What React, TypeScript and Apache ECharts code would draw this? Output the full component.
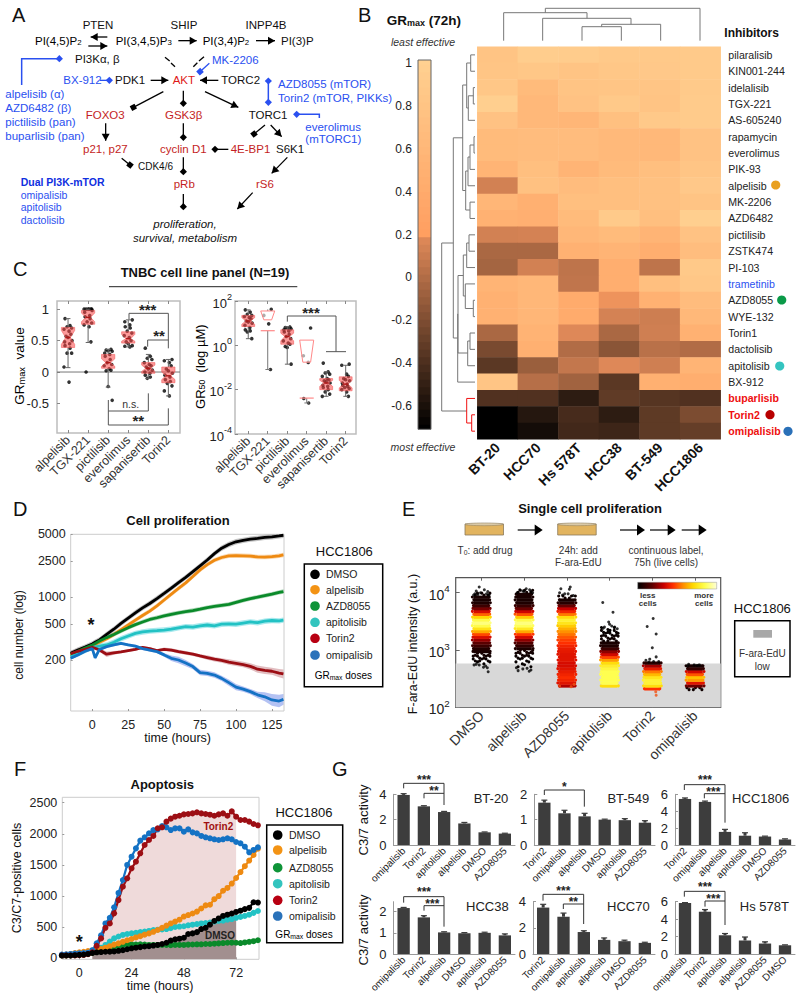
import React, { useEffect, useRef } from "react";
import * as echarts from "echarts";

const FF = "Liberation Sans";

// ---------- Panel B data ----------
const cellLines = ["BT-20", "HCC70", "Hs 578T", "HCC38", "BT-549", "HCC1806"];
const inhibitors = ["pilaralisib", "KIN001-244", "idelalisib", "TGX-221", "AS-605240", "rapamycin", "everolimus", "PIK-93", "alpelisib", "MK-2206", "AZD6482", "pictilisib", "ZSTK474", "PI-103", "trametinib", "AZD8055", "WYE-132", "Torin1", "dactolisib", "apitolisib", "BX-912", "buparlisib", "Torin2", "omipalisib"];
const grmax = [
  [0.8, 0.95, 0.93, 0.88, 0.88, 0.9],
  [0.82, 0.85, 0.8, 0.85, 0.87, 0.9],
  [0.85, 0.65, 0.8, 0.82, 0.82, 0.9],
  [0.98, 0.62, 0.78, 0.88, 0.8, 0.92],
  [0.78, 0.62, 0.58, 0.73, 0.88, 0.92],
  [0.65, 0.68, 0.68, 0.63, 0.62, 0.78],
  [0.65, 0.68, 0.68, 0.63, 0.62, 0.78],
  [0.55, 0.72, 0.55, 0.65, 0.72, 0.82],
  [0.13, 0.75, 0.68, 0.72, 0.75, 0.87],
  [0.58, 0.48, 0.72, 0.72, 0.75, 0.8],
  [0.5, 0.47, 0.65, 0.9, 0.72, 0.97],
  [0.13, 0.14, 0.6, 0.65, 0.55, 0.78],
  [-0.03, -0.03, 0.5, 0.55, 0.45, 0.7],
  [-0.05, 0.13, 0.05, 0.45, 0.05, 0.88],
  [0.55, 0.6, 0.06, 0.45, 0.72, 0.85],
  [0.5, 0.6, 0.4, 0.19, 0.5, 0.68],
  [0.5, 0.57, 0.4, 0.14, 0.11, 0.62],
  [-0.03, 0.53, 0.18, -0.03, 0.12, 0.5],
  [-0.22, 0.48, 0.0, -0.15, 0.03, 0.0],
  [-0.34, -0.09, 0.07, 0.18, 0.12, 0.55],
  [0.82, 0.02, -0.06, -0.34, 0.48, 0.45],
  [-0.38, -0.38, -0.52, -0.32, -0.36, -0.38],
  [-0.72, -0.55, -0.42, -0.52, -0.33, -0.21],
  [-0.72, -0.62, -0.44, -0.46, -0.33, -0.3],
];
const grTicks = [1, 0.8, 0.6, 0.4, 0.2, 0, -0.2, -0.4, -0.6];

// ---------- Panel C data ----------
const panelCDrugs = ["alpelisib", "TGX-221", "pictilisib", "everolimus", "sapanisertib", "Torin2"];
const jitter = [-0.15, 0.1, -0.05, 0.18, -0.2, 0.05, 0.14, -0.1, 0.0, 0.2, -0.17, 0.08];
const grmaxPoints = [
  [0.85, 0.74, 0.72, 0.7, 0.68, 0.65, 0.6, 0.57, 0.55, 0.5, 0.48, 0.45, 0.42, 0.38, 0.3, 0.3, 0.08, -0.16],
  [1, 1, 1, 1, 1, 1, 0.98, 0.95, 0.9, 0.88, 0.85, 0.8, 0.78, 0.75, 0.72, 0.48, 0],
  [0.36, 0.35, 0.34, 0.33, 0.3, 0.28, 0.25, 0.2, 0.15, 0.12, 0.1, 0.05, 0.03, 0.02, -0.23, -0.45],
  [0.83, 0.8, 0.75, 0.72, 0.7, 0.65, 0.62, 0.58, 0.55, 0.5, 0.48, 0.45, 0.42, 0.41, 0.4],
  [0.38, 0.25, 0.22, 0.2, 0.15, 0.12, 0.1, 0.08, 0.05, 0.03, 0, -0.02, -0.05, -0.08, -0.1],
  [0.2, 0.18, 0.15, 0.1, 0.05, 0.02, -0.02, -0.05, -0.08, -0.12, -0.15, -0.18, -0.22, -0.3, -0.38],
];
// idx, whisker low, q1, notch low, median, notch high, q3, whisker high
const grmaxBoxes = [
  [1, 0.07, 0.39, 0.44, 0.55, 0.66, 0.71, 0.85],
  [2, 0.47, 0.76, 0.8, 0.87, 0.94, 0.98, 1.0],
  [3, -0.24, 0.06, 0.09, 0.15, 0.21, 0.28, 0.36],
  [4, 0.4, 0.46, 0.49, 0.53, 0.6, 0.64, 0.83],
  [5, -0.1, -0.02, 0.01, 0.06, 0.11, 0.15, 0.28],
  [6, -0.38, -0.17, -0.12, -0.06, 0, 0.08, 0.2],
];
const gr50Points = [
  [1.6, 1.5, 1.4, 1.35, 1.3, 1.25, 1.2, 1.1, 1.05, 1.0, 0.9, 0.8, 0.7, 0.65, 0.6, 0.3],
  [1.63, 1.35, 0.97, -1.09],
  [0.83, 0.8, 0.78, 0.75, 0.7, 0.65, 0.6, 0.5, 0.4, 0.3, 0.2, 0.1, 0.05, -0.05, -0.1, -0.85],
  [0.78, -0.47, -0.77, -2.4, -2.6],
  [-0.8, -1.2, -1.25, -1.3, -1.4, -1.5, -1.55, -1.6, -1.65, -1.7, -1.8, -1.85, -1.9, -2.0, -2.1, -2.2, -2.3],
  [-0.85, -0.9, -1.3, -1.4, -1.5, -1.55, -1.6, -1.7, -1.75, -1.8, -1.85, -1.9, -1.95, -2.0, -2.1, -2.3],
];
const gr50Boxes = [
  [1, 0.3, 0.85, 0.95, 1.1, 1.25, 1.35, 1.6],
  [3, -0.85, 0.05, 0.2, 0.4, 0.55, 0.7, 0.83],
  [5, -2.3, -2.0, -1.85, -1.7, -1.58, -1.5, -1.2],
  [6, -2.3, -2.05, -1.92, -1.75, -1.58, -1.42, -0.9],
];
// idx, trapezoid low, trapezoid high, median, whisker low, whisker high
const gr50Hollow = [
  [2, 1.15, 1.55, 0.66, -1.09, 1.62],
  [4, -0.76, 0.235, -2.38, -2.6, 0.235],
];

// ---------- Panel D data ----------
const tD = [-15, -10, -5, 0, 2, 5, 10, 15, 20, 25, 30, 35, 40, 45, 50, 55, 60, 65, 70, 75, 80, 85, 90, 95, 100, 105, 110, 115, 120, 125, 130, 133];
const dDMSO = [237, 258, 278, 301, 315, 335, 385, 440, 510, 585, 670, 760, 850, 965, 1100, 1260, 1450, 1660, 1920, 2230, 2590, 3050, 3500, 3850, 4130, 4280, 4420, 4500, 4620, 4680, 4800, 4880];
const dAlpelisib = [225, 243, 265, 290, 300, 315, 345, 385, 435, 490, 555, 625, 700, 800, 930, 1080, 1250, 1440, 1700, 2010, 2300, 2570, 2760, 2880, 2900, 2880, 2860, 2800, 2790, 2820, 2880, 2950];
const dAZD8055 = [232, 250, 272, 294, 305, 325, 355, 385, 420, 458, 495, 530, 565, 590, 620, 645, 670, 690, 710, 735, 765, 790, 810, 830, 875, 920, 965, 1000, 1040, 1080, 1130, 1155];
const dApitolisib = [218, 235, 255, 277, 280, 285, 294, 315, 345, 370, 396, 410, 420, 425, 431, 440, 455, 470, 465, 480, 490, 480, 500, 505, 500, 515, 530, 520, 540, 550, 545, 555];
const dTorin2 = [235, 250, 262, 277, 270, 258, 232, 240, 246, 254, 262, 276, 268, 255, 263, 258, 248, 240, 232, 222, 213, 204, 198, 190, 184, 178, 170, 158, 153, 150, 143, 140];
const dOmipalisib = [209, 228, 250, 268, 212, 262, 282, 294, 306, 294, 285, 268, 258, 248, 228, 209, 200, 185, 169, 145, 142, 136, 125, 112, 100, 95, 89, 82, 78, 72, 70, 73];
const dTorinBand = [0.03, 0.03, 0.03, 0.02, 0.02, 0.02, 0.03, 0.02, 0.015, 0.015, 0.015, 0.015, 0.015, 0.015, 0.02, 0.02, 0.02, 0.02, 0.02, 0.02, 0.025, 0.025, 0.025, 0.03, 0.03, 0.03, 0.035, 0.04, 0.04, 0.04, 0.045, 0.05];
const dOmiBand = [0.015, 0.015, 0.015, 0.015, 0.02, 0.02, 0.015, 0.015, 0.015, 0.015, 0.015, 0.015, 0.015, 0.015, 0.02, 0.03, 0.035, 0.035, 0.03, 0.03, 0.03, 0.03, 0.03, 0.035, 0.035, 0.03, 0.03, 0.035, 0.05, 0.065, 0.07, 0.06];
const dYTicks = [200, 500, 1000, 2500, 5000];
const dXTicks = [0, 25, 50, 75, 100, 125];

// ---------- Panel E data ----------
const panelEDrugs = ["DMSO", "alpelisib", "AZD8055", "apitolisib", "Torin2", "omipalisib"];
const eBins = [2.2, 2.25, 2.3, 2.35, 2.4, 2.45, 2.5, 2.55, 2.6, 2.65, 2.7, 2.75, 2.8, 2.85, 2.9, 2.95, 3.0, 3.05, 3.1, 3.15, 3.2, 3.25, 3.3, 3.35, 3.4, 3.45, 3.5, 3.55, 3.6, 3.65, 3.7, 3.75, 3.8, 3.85, 3.9, 3.95, 4.0];
const eDensity = [
  [0, 0, 0, 0, 0, 0, 0, 0, 0, 0, 0, 0.01, 0.02, 0.03, 0.04, 0.05, 0.07, 0.12, 0.18, 0.26, 0.36, 0.48, 0.62, 0.74, 0.84, 0.9, 0.84, 0.7, 0.52, 0.36, 0.22, 0.12, 0.06, 0.05, 0.05, 0.03, 0],
  [0, 0, 0, 0, 0, 0, 0, 0, 0, 0, 0.01, 0.01, 0.01, 0.02, 0.03, 0.04, 0.06, 0.1, 0.16, 0.25, 0.35, 0.46, 0.62, 0.76, 0.86, 0.9, 0.84, 0.68, 0.5, 0.34, 0.2, 0.11, 0.06, 0.05, 0.05, 0.05, 0.03],
  [0, 0, 0, 0.3, 0.38, 0.42, 0.44, 0.42, 0.4, 0.38, 0.36, 0.36, 0.38, 0.38, 0.38, 0.39, 0.4, 0.42, 0.45, 0.47, 0.5, 0.54, 0.58, 0.63, 0.68, 0.75, 0.8, 0.72, 0.55, 0.42, 0.33, 0.2, 0.08, 0.05, 0.03, 0, 0],
  [0, 0, 0, 0.72, 0.85, 0.85, 0.85, 0.85, 0.85, 0.82, 0.78, 0.72, 0.6, 0.48, 0.35, 0.25, 0.12, 0.06, 0.05, 0.03, 0.03, 0.02, 0.02, 0.01, 0, 0, 0, 0, 0, 0, 0, 0, 0, 0, 0, 0, 0],
  [0, 0, 0.45, 0.72, 0.8, 0.8, 0.75, 0.65, 0.55, 0.4, 0.28, 0.08, 0, 0, 0, 0, 0, 0, 0, 0, 0, 0, 0, 0, 0, 0, 0, 0, 0, 0, 0, 0, 0, 0, 0, 0, 0],
  [0, 0, 0.03, 0.2, 0.38, 0.6, 0.66, 0.5, 0.35, 0.1, 0.05, 0, 0, 0, 0, 0, 0, 0, 0, 0, 0, 0, 0, 0, 0, 0, 0, 0, 0, 0, 0, 0, 0, 0, 0, 0, 0],
];
const eDotsBlack = [
  [0.95, 4.1], [0.88, 4.03], [1.07, 4.05], [1.15, 4.02], [0.85, 3.98], [0.98, 4.0], [1.12, 3.98], [1.18, 3.96], [0.82, 3.96], [0.92, 3.97],
  [1.16, 2.62], [0.88, 2.75], [0.83, 2.74], [0.95, 2.74], [1.1, 2.72], [1.14, 2.69], [1.05, 2.7],
  [2.05, 4.07], [2.13, 4.05], [1.9, 4.05], [1.97, 4.03], [2.16, 4.02], [2.2, 4.0], [1.84, 4.0], [2.0, 4.02],
  [1.86, 2.64], [2.12, 2.63], [2.16, 2.65], [1.97, 2.67], [2.07, 2.68], [1.82, 2.69],
  [3.08, 4.1], [3.06, 4.06], [2.86, 4.07], [2.83, 4.0], [3.03, 3.98], [2.95, 3.98], [3.15, 3.95], [2.9, 3.96],
  [3.84, 3.83], [4.08, 3.66], [3.98, 3.49], [4.0, 3.45], [4.12, 3.4], [3.88, 3.4], [4.18, 3.37], [4.05, 3.42], [3.85, 3.38], [4.0, 3.33],
  [5.02, 3.55], [4.88, 3.41], [5.09, 3.28], [5.0, 3.04], [5.09, 2.88], [4.94, 2.84], [4.85, 2.82], [5.15, 2.8], [5.03, 2.8], [4.92, 2.79],
  [5.85, 2.75], [5.98, 2.74], [6.05, 2.73], [6.1, 2.74], [5.82, 2.72],
];
const eDotsOrange = [[2.83, 2.37], [3.1, 2.36], [3.17, 2.4], [5.08, 2.27], [5.09, 2.21]];
const eThreshold = 2.766;
const stripPattern = [-0.19, -0.14, -0.09, -0.04, 0.01, 0.06, 0.11, 0.16, 0.2];
const stripEdge = [0.0, 0.02, -0.01, 0.025, 0.01];

// ---------- Panel F data ----------
const tF = [-8, -6, -4, -2, 0, 2, 4, 6, 8, 10, 12, 14, 16, 18, 20, 22, 24, 26, 28, 30, 32, 34, 36, 38, 40, 42, 44, 46, 48, 50, 52, 54, 56, 58, 60, 62, 64, 66, 68, 70, 72, 74, 76, 78, 80, 82];
const fDMSO = [45, 45, 45, 50, 55, 60, 70, 85, 96, 100, 105, 107, 110, 120, 130, 145, 160, 170, 180, 190, 195, 205, 215, 230, 250, 285, 305, 315, 330, 390, 400, 420, 470, 490, 540, 600, 640, 680, 700, 720, 745, 765, 790, 810, 900, 895];
const fAlpelisib = [55, 60, 70, 85, 95, 105, 115, 125, 135, 150, 170, 195, 220, 240, 265, 290, 310, 335, 355, 380, 400, 425, 455, 490, 525, 560, 590, 620, 670, 695, 720, 750, 800, 850, 860, 950, 1000, 1085, 1130, 1200, 1290, 1385, 1480, 1570, 1660, 1760];
const fAZD8055 = [45, 45, 45, 50, 55, 60, 70, 85, 100, 120, 140, 160, 180, 195, 210, 225, 225, 220, 225, 220, 215, 215, 215, 215, 214, 210, 215, 215, 215, 220, 222, 225, 225, 230, 230, 235, 240, 245, 250, 252, 250, 245, 255, 265, 275, 290];
const fApitolisib = [50, 52, 55, 60, 65, 75, 85, 100, 125, 170, 215, 270, 320, 350, 375, 390, 400, 410, 420, 430, 440, 455, 460, 465, 470, 485, 505, 510, 515, 530, 540, 550, 560, 565, 575, 590, 600, 605, 620, 630, 650, 665, 680, 700, 730, 760];
const fTorin2 = [45, 45, 45, 45, 50, 55, 65, 95, 200, 320, 490, 560, 722, 936, 1150, 1285, 1445, 1552, 1686, 1820, 1900, 1965, 2088, 2104, 2195, 2243, 2275, 2290, 2312, 2318, 2328, 2345, 2328, 2318, 2307, 2290, 2312, 2328, 2290, 2360, 2275, 2221, 2221, 2195, 2157, 2136];
const fOmipalisib = [60, 65, 70, 75, 80, 85, 90, 130, 240, 370, 560, 650, 820, 1050, 1258, 1500, 1632, 1766, 1890, 1943, 2007, 2060, 2071, 2125, 2104, 2060, 2087, 2087, 2034, 2071, 2023, 2007, 1965, 1943, 1927, 1911, 1900, 1911, 1927, 1911, 1868, 1847, 1793, 1702, 1740, 1782];
const fYTicks = [0, 500, 1000, 1500, 2000, 2500];
const fXTicks = [0, 24, 48, 72];

// ---------- Panel G data ----------
const gNames = ["BT-20", "BT-549", "HCC1806", "HCC38", "HCC70", "Hs 578T"];
const gCats = [
  ["omipalisib", "Torin2", "apitolisib", "alpelisib", "DMSO", "AZD8055"],
  ["Torin2", "omipalisib", "alpelisib", "DMSO", "apitolisib", "AZD8055"],
  ["Torin2", "omipalisib", "alpelisib", "apitolisib", "DMSO", "AZD8055"],
  ["omipalisib", "Torin2", "alpelisib", "DMSO", "apitolisib", "AZD8055"],
  ["Torin2", "omipalisib", "apitolisib", "alpelisib", "DMSO", "AZD8055"],
  ["omipalisib", "Torin2", "apitolisib", "alpelisib", "AZD8055", "DMSO"],
];
const gVals = [
  [3.95, 3.05, 2.6, 1.7, 1.0, 0.9],
  [1.67, 1.25, 1.13, 1.0, 0.98, 0.88],
  [5.45, 5.1, 1.55, 1.1, 1.0, 0.65],
  [2.17, 1.73, 1.02, 0.98, 1.0, 0.88],
  [3.55, 2.85, 1.68, 1.08, 0.98, 0.85],
  [5.85, 4.85, 2.15, 1.55, 1.2, 1.0],
];
const gErr = [
  [0.1, 0.05, 0.05, 0.08, 0.03, 0.03],
  [0.1, 0.12, 0.12, 0.02, 0.06, 0.08],
  [0.12, 0.1, 0.3, 0.35, 0.05, 0.08],
  [0.03, 0.08, 0.03, 0.03, 0.03, 0.07],
  [0.25, 0.28, 0.1, 0.15, 0.08, 0.05],
  [0.05, 0.25, 0.2, 0.4, 0.2, 0.05],
];
const gTickStep = [2, 1, 2, 1, 2, 2];
const gMax = [4, 2, 6, 2.47, 4, 6];

const legendNames = ["DMSO", "alpelisib", "AZD8055", "apitolisib", "Torin2", "omipalisib"];
const legendColors = ["#000000", "#F39314", "#0F9438", "#33C4BE", "#B80012", "#2A72BA"];
const lineColors = ["#000000", "#EE8A12", "#0A8A2A", "#22C2C4", "#9C0E14", "#1472C4"];

// ---------- helpers ----------
const el: any[] = [];
const text = (x: number, y: number, s: string, o: any = {}) => {
  const { rotation, rich, ...st } = o;
  el.push({
    type: "text", x, y, rotation: rotation || 0, z: 100, silent: true,
    style: { text: s, fontSize: 11.5, fontFamily: FF, fill: "#111", align: "left", verticalAlign: "middle", rich, ...st },
  });
};
const line = (pts: number[][], color = "#111", w = 1.2) =>
  el.push({ type: "polyline", z: 99, silent: true, shape: { points: pts }, style: { stroke: color, lineWidth: w, fill: "none" } });
const z3 = (ox: number, oy: number, pts: number[][]) => pts.map(([x, y]) => [ox + x / 3, oy + y / 3]);

const head = (kind: string, x0: number, y0: number, x1: number, y1: number, color: string) => {
  const L = Math.hypot(x1 - x0, y1 - y0);
  const ux = (x1 - x0) / L, uy = (y1 - y0) / L, px = -uy, py = ux;
  let pts: number[][] = [];
  if (kind === "arrow") {
    const l = 7, w = 4;
    pts = [[x1, y1], [x1 - ux * l + px * w, y1 - uy * l + py * w], [x1 - ux * l - px * w, y1 - uy * l - py * w]];
  } else if (kind === "diamond") {
    const r = 3.6;
    pts = [[x1 + r, y1], [x1, y1 + r], [x1 - r, y1], [x1, y1 - r]];
  } else {
    const r = 2.7;
    pts = [[x1 + ux * r + px * r, y1 + uy * r + py * r], [x1 + ux * r - px * r, y1 + uy * r - py * r], [x1 - ux * r - px * r, y1 - uy * r - py * r], [x1 - ux * r + px * r, y1 - uy * r + py * r]];
  }
  el.push({ type: "polygon", z: 99, silent: true, shape: { points: pts }, style: { fill: color } });
};
const conn = (kind: string, x0: number, y0: number, x1: number, y1: number, color = "#000") => {
  const a = [x0 / 3, y0 / 3], b = [x1 / 3, y1 / 3];
  line([a, b], color, 1.3);
  head(kind, a[0], a[1], b[0], b[1], color);
};

const BLUE = "#2A50F0";
const RED = "#C41E24";
const subRich = (fs: number, col?: string) => ({
  n: { fontSize: fs, fontFamily: FF, fill: col, color: col },
  s: { fontSize: fs * 0.68, fontFamily: FF, verticalAlign: "bottom", padding: [4, 0, 0, 0], fill: col, color: col },
});

function panelA() {
  const lab = (x: number, y: number, s: string) => text(x, y, s, { fontSize: 20 });
  lab(12, 15, "A"); lab(358, 15, "B"); lab(13, 269, "C"); lab(13, 509, "D"); lab(402, 509, "E"); lab(14, 769, "F"); lab(332, 769, "G");
  [["PTEN", 98], ["SHIP", 184], ["INPP4B", 266]].forEach(([s, x]: any) => text(x, 24.7, s, { align: "center" }));
  [["{n|PI(4,5)P}{s|2}", 35], ["{n|PI(3,4,5)P}{s|3}", 115.7], ["{n|PI(3,4)P}{s|2}", 202.7]].forEach(([s, x]: any) =>
    text(x, 40.7, s, { rich: subRich(11.5) }));
  text(281, 40.7, "PI(3)P");
  text(75, 59.3, "PI3Kα, β");
  conn("arrow", 322, 111, 272, 111);
  conn("arrow", 265, 138, 322, 138);
  conn("arrow", 535, 122, 590, 122);
  conn("arrow", 768, 122, 825, 122);
  line(z3(0, 0, [[65, 255], [65, 176], [175, 176]]), BLUE, 1.5);
  head("diamond", 0, 0, 178 / 3, 176 / 3, BLUE);
  line(z3(0, 0, [[495, 172], [509, 183]]), "#000", 1.3);
  line(z3(0, 0, [[513, 189], [525, 200]]), "#000", 1.3);
  line(z3(0, 0, [[612, 170], [597, 183]]), "#000", 1.3);
  line(z3(0, 0, [[592, 188], [580, 200]]), "#000", 1.3);
  text(212, 59.7, "MK-2206", { fill: BLUE });
  conn("square", 628, 190, 600, 215, BLUE);
  text(63.3, 80.3, "BX-912", { fill: BLUE });
  conn("diamond", 300, 241, 328, 241, BLUE);
  text(115, 80.3, "PDK1");
  conn("arrow", 452, 241, 505, 241);
  text(172.7, 80.3, "AKT", { fill: "#E01818" });
  conn("arrow", 655, 241, 600, 241);
  text(221.3, 80.3, "TORC2");
  line(z3(0, 0, [[805, 243], [805, 307]]), BLUE, 1.5);
  head("diamond", 0, 0, 805 / 3, 243 / 3, BLUE);
  head("diamond", 0, 0, 805 / 3, 307 / 3, BLUE);
  text(278, 84, "AZD8055 (mTOR)", { fill: BLUE });
  text(278, 97.7, "Torin2 (mTOR, PIKKs)", { fill: BLUE });
  ["alpelisib (α)", "AZD6482 (β)", "pictilisib (pan)", "buparlisib (pan)"].forEach((s, i) => text(5.3, 94.3 + 14 * i, s, { fill: BLUE }));
  conn("square", 490, 275, 400, 322);
  conn("diamond", 550, 272, 550, 310);
  conn("arrow", 615, 275, 715, 322);
  text(85.7, 115, "FOXO3", { fill: RED });
  text(165, 115, "GSK3β", { fill: RED });
  text(248.7, 115, "TORC1");
  line(z3(0, 0, [[958, 354], [958, 343], [890, 343]]), BLUE, 1.5);
  head("diamond", 0, 0, 890 / 3, 343 / 3, BLUE);
  text(305.3, 126.7, "everolimus", { fill: BLUE });
  text(305.3, 139.3, "(mTORC1)", { fill: BLUE });
  conn("arrow", 317, 370, 317, 422);
  conn("diamond", 550, 370, 550, 412);
  conn("square", 795, 375, 762, 402);
  conn("arrow", 812, 375, 845, 410);
  text(83, 149.3, "p21, p27", { fill: RED });
  text(160, 149.3, "cyclin D1", { fill: RED });
  text(230.7, 149.3, "4E-BP1", { fill: RED });
  text(276, 149.3, "S6K1");
  conn("diamond", 685, 448, 645, 448);
  conn("square", 365, 475, 390, 495);
  text(138, 166, "CDK4/6", { fontSize: 10 });
  conn("diamond", 550, 472, 550, 515);
  text(173.7, 184.3, "pRb", { fill: RED });
  text(256, 184.3, "rS6", { fill: RED });
  conn("arrow", 862, 472, 815, 520);
  conn("arrow", 758, 578, 712, 627);
  conn("diamond", 550, 582, 550, 620);
  text(185, 224.3, "proliferation,", { align: "center", fontStyle: "italic" });
  text(185, 238, "survival, metabolism", { align: "center", fontStyle: "italic" });
  text(20.7, 181.7, "Dual PI3K-mTOR", { fill: "#1030E0", fontWeight: "bold", fontSize: 10.5 });
  ["omipalisib", "apitolisib", "dactolisib"].forEach((s, i) => text(20.7, 194.7 + 12.7 * i, s, { fill: BLUE, fontSize: 10.5 }));
}

function panelBDecor() {
  text(386.7, 20, "{b|GR}{t|max}{b| (72h)}", {
    rich: {
      b: { fontSize: 13.5, fontWeight: "bold", fontFamily: FF },
      t: { fontSize: 9, fontWeight: "bold", fontFamily: FF, verticalAlign: "bottom", padding: [4, 0, 0, 0] },
    },
  });
  text(423, 42.3, "least effective", { align: "center", fontStyle: "italic", fontSize: 10.5, fill: "#333" });
  text(423, 446.7, "most effective", { align: "center", fontStyle: "italic", fontSize: 10.5, fill: "#333" });
  text(724.3, 33.3, "Inhibitors", { fontWeight: "bold", fontSize: 12 });
  const dots: any[] = [[775.7, 185, "#E9A01F"], [781.7, 300, "#0A9A48"], [779.7, 366, "#35C4C0"], [770, 414.7, "#B80000"], [788, 431.3, "#2A70B8"]];
  dots.forEach(([x, y, c]) => el.push({ type: "circle", z: 99, silent: true, shape: { cx: x, cy: y, r: 4.6 }, style: { fill: c } }));
  const G = "#777";
  const br = (xa: number, ya: number, xp: number, yb: number, xb: number, c = G) =>
    line([[xa, ya], [xp, ya], [xp, yb], [xb, yb]], c, 1);
  const R = (i: number) => 46.7 + 16.36 * (i + 0.5);
  const X = 475;
  br(X, R(0), 470.7, R(1), X);
  br(X, R(2), 473.3, R(3), X);
  br(473.3, 95.8, 468.3, R(4), X);
  br(470.7, 63, 466.7, 108, 468.3);
  br(X, R(5), 474, R(6), X);
  br(474, 145, 470, R(7), X);
  br(470, 157, 468, R(8), X);
  br(X, R(9), 470, R(10), X);
  br(468, 171, 465.7, 210, 470);
  br(466.7, 85, 462.7, 190.5, 465.7);
  br(X, R(11), 469, R(12), X);
  br(469, 243, 466.7, R(13), X);
  br(X, R(15), 473.3, R(16), X);
  br(X, R(14), 465.3, 308.5, 473.3);
  br(466.7, 255, 463.3, 296, 465.3);
  br(X, R(17), 470, R(18), X);
  br(470, 341, 467.7, R(19), X);
  br(463.3, 275.5, 458, 353, 467.7);
  br(458, 314, 457.7, R(20), X);
  br(462.7, 137.8, 453.3, 338, 457.7);
  br(453.3, 243, 441.7, 411, 466.7);
  br(X, R(22), 471.7, R(23), X, "#F01010");
  br(X, R(21), 466.7, 423, 471.7, "#F01010");
  // top dendrogram
  const bt = 40.7;
  const tp = (x: number) => 380 + x / 3;
  const tb = (xa: number, ya: number, xb: number, yb: number, y: number) =>
    line([[tp(xa), ya], [tp(xa), y], [tp(xb), y], [tp(xb), yb]], G, 1);
  tb(606, bt, 724, bt, 26.7);
  tb(665, 26.7, 842, bt, 24.3);
  tb(488, bt, 753, 24.3, 18.3);
  tb(371, bt, 621, 18.3, 12.7);
  tb(496, 12.7, 960, bt, 8.3);
}

function panelCDecor() {
  text(205, 272.7, "TNBC cell line panel (N=19)", { align: "center", fontWeight: "bold", fontSize: 13 });
  line([[109, 286.7], [297.3, 286.7]], "#222", 1);
  text(19, 366, "{n|GR}{s|max}{n|  value}", { rotation: Math.PI / 2, align: "center", rich: subRich(13.5) });
  text(200, 366.7, "{n|GR}{s|50}{n|  (log µM)}", { rotation: Math.PI / 2, align: "center", rich: subRich(13) });
  const O = 250;
  const g = "#555";
  line(z3(0, O, [[387, 208], [387, 190], [505, 190], [505, 295]]), g, 1);
  line(z3(0, O, [[443, 290], [443, 270], [505, 270]]), g, 1);
  line(z3(0, O, [[445, 430], [445, 483], [325, 483], [325, 450]]), g, 1);
  line(z3(0, O, [[505, 475], [505, 525], [325, 525], [325, 483]]), g, 1);
  line(z3(0, O, [[862, 215], [862, 198], [1008, 198], [1008, 305]]), g, 1);
  line(z3(0, O, [[978, 305], [1038, 305]]), g, 1);
  const st = (x: number, y: number, s: string, fs = 15) => text(x, y, s, { align: "center", fontSize: fs, fontWeight: "bold", fill: "#222" });
  st(443 / 3, O + 178 / 3, "***");
  st(477 / 3, O + 256 / 3, "**");
  st(415 / 3, O + 512 / 3, "**");
  st(933 / 3, O + 186 / 3, "***");
  text(392 / 3, O + 463 / 3, "n.s.", { align: "center", fontSize: 10.5, fill: "#333" });
}

function legendBox(x0: number, y0: number, x1: number, y1: number, cx: number, tx: number, ys: number[], grY: number, grX: number, hX: number, hY: number) {
  text(hX, hY, "HCC1806", { align: "center", fontSize: 13 });
  el.push({ type: "rect", z: 98, silent: true, shape: { x: x0, y: y0, width: x1 - x0, height: y1 - y0 }, style: { fill: "#fff", stroke: "#000", lineWidth: 1.5 } });
  ys.forEach((y, i) => {
    el.push({ type: "circle", z: 99, silent: true, shape: { cx, cy: y, r: 4.8 }, style: { fill: legendColors[i] } });
    text(tx, y, legendNames[i], { fontSize: 10.5, fill: "#222" });
  });
  text(grX, grY, "{n|GR}{s|max}{n| doses}", { align: "center", rich: subRich(10) });
}

function panelDDecor() {
  text(178, 520.7, "Cell proliferation", { align: "center", fontWeight: "bold", fontSize: 13 });
  text(91, 625, "*", { align: "center", fontSize: 18, fontWeight: "bold" });
  text(19, 635, "cell number (log)", { rotation: Math.PI / 2, align: "center", fontSize: 12 });
  text(177.7, 738.3, "time (hours)", { align: "center", fontSize: 12.5 });
  legendBox(304.3, 564, 382.7, 686.7, 315, 326, [574.3, 589.7, 606, 622.3, 638.3, 655], 675.7, 343.3, 344.3, 551.7);
}

function panelEDecor() {
  text(590, 508.3, "Single cell proliferation", { align: "center", fontWeight: "bold", fontSize: 13 });
  [465, 557.7].forEach((x) => {
    el.push({ type: "rect", z: 98, silent: true, shape: { x, y: 524, width: 38.5, height: 11 }, style: { fill: "#E2B45F", stroke: "#8A7A5A", lineWidth: 0.8 } });
    el.push({ type: "ellipse", z: 99, silent: true, shape: { cx: x + 19.2, cy: 524.3, rx: 19.2, ry: 1.4 }, style: { fill: "#D9C9A8", stroke: "#8A7A5A", lineWidth: 0.5 } });
  });
  [[517.7, 542.7], [620, 645], [650, 675.7], [681.7, 706.7]].forEach(([a, b]) => {
    line([[a, 530], [b - 6, 530]], "#000", 1.2);
    el.push({ type: "polygon", z: 99, silent: true, shape: { points: [[b, 530], [b - 8, 524.5], [b - 8, 535.5]] }, style: { fill: "#000" } });
  });
  text(485, 550, "{n|T}{s|0}{n|: add drug}", { align: "center", rich: subRich(10, "#333") });
  text(578.3, 550, "24h: add", { align: "center", fontSize: 10, fill: "#333" });
  text(578.3, 562.3, "F-ara-EdU", { align: "center", fontSize: 10, fill: "#333" });
  text(666, 550, "continuous label,", { align: "center", fontSize: 10, fill: "#333" });
  text(666, 562.3, "75h (live cells)", { align: "center", fontSize: 10, fill: "#333" });
  text(413, 644, "F-ara-EdU intensity (a.u.)", { rotation: Math.PI / 2, align: "center", fontSize: 12.5 });
  el.push({
    type: "rect", z: 98, silent: true, shape: { x: 637.7, y: 582.3, width: 79, height: 6.7 },
    style: {
      stroke: "#999", lineWidth: 0.5,
      fill: new echarts.graphic.LinearGradient(0, 0, 1, 0, hotStops.map(([o, c]: any) => ({ offset: o, color: c }))),
    },
  });
  const sm = { fontSize: 8, fontWeight: "bold", fill: "#333", align: "center" };
  text(647.7, 595, "less", sm); text(647.7, 603, "cells", sm);
  text(704, 595, "more", sm); text(704, 603, "cells", sm);
  text(762.3, 608, "HCC1806", { align: "center", fontSize: 13 });
  el.push({ type: "rect", z: 98, silent: true, shape: { x: 734.7, y: 620.7, width: 55.3, height: 56 }, style: { fill: "#fff", stroke: "#000", lineWidth: 1.5 } });
  el.push({ type: "rect", z: 99, silent: true, shape: { x: 753.3, y: 630, width: 18.7, height: 7.7 }, style: { fill: "#A8A8A8" } });
  text(762.3, 653, "F-ara-EdU", { align: "center", fontSize: 10, fill: "#333" });
  text(762.3, 666, "low", { align: "center", fontSize: 10, fill: "#333" });
}

function panelFDecor() {
  text(162.3, 784.3, "Apoptosis", { align: "center", fontWeight: "bold", fontSize: 13 });
  text(79.3, 942, "*", { align: "center", fontSize: 18, fontWeight: "bold" });
  text(218.3, 826, "Torin2", { align: "center", fontWeight: "bold", fontSize: 10, fill: "#A01010" });
  text(220, 935.3, "DMSO", { align: "center", fontWeight: "bold", fontSize: 10, fill: "#222" });
  text(17.3, 878, "C3/C7-positive cells", { rotation: Math.PI / 2, align: "center", fontSize: 12.5 });
  text(160, 985.7, "time (hours)", { align: "center", fontSize: 12.5 });
  legendBox(266.7, 825, 342.7, 942.7, 277.7, 289, [835, 850, 867.7, 883.7, 900.3, 916], 934, 304, 304, 812.7);
}

function panelGDecor() {
  const O = 750, X = 345, g = "#333";
  const B = (pts: number[][]) => line(z3(X, O, pts), g, 1);
  const S = (x: number, y: number, s: string) => text(X + x / 3, O + y / 3 + 1.5, s, { align: "center", fontSize: 12, fontWeight: "bold", fill: "#222" });
  const N = (x: number, y: number, s: string) => text(X + x / 3, O + y / 3, s, { align: "center", fontSize: 13, fill: "#222" });
  B([[176, 115], [176, 100], [297, 100], [297, 165]]); B([[237, 145], [237, 130], [297, 130]]); S(237, 85, "***"); S(267, 118, "**");
  B([[598, 135], [598, 120], [718, 120], [718, 170]]); S(658, 105, "*");
  B([[1018, 120], [1018, 104], [1140, 104], [1140, 218]]); B([[1078, 145], [1078, 131], [1140, 131]]); S(1080, 86, "***"); S(1105, 122, "***");
  B([[176, 458], [176, 440], [297, 440], [297, 530]]); B([[237, 482], [237, 467], [297, 467]]); S(237, 421, "***"); S(262, 456, "***");
  B([[594, 452], [594, 433], [716, 433], [716, 522]]); B([[655, 477], [655, 462], [716, 462]]); S(655, 418, "***"); S(685, 450, "**");
  B([[1018, 440], [1018, 424], [1140, 424], [1140, 525]]); B([[1080, 470], [1080, 453], [1140, 453]]); S(1080, 406, "***"); S(1105, 442, "***");
  const nm: number[][] = [[438, 145], [850, 145], [1247, 145], [427, 468], [850, 468], [1258, 468]];
  nm.forEach(([x, y], i) => N(x, y, gNames[i]));
  text(363.3, 820, "C3/7 activity", { rotation: Math.PI / 2, align: "center", fontSize: 13 });
  text(363.3, 930, "C3/7 activity", { rotation: Math.PI / 2, align: "center", fontSize: 13 });
}

// colour scales
function heatColor(v: number) {
  if (v >= 0.2) {
    const t = (v - 0.2) / 0.8;
    return `rgb(255,${Math.round(158 + 50 * t)},${Math.round(96 + 48 * t)})`;
  }
  const t = Math.max(0, (v + 0.7) / 0.88);
  return `rgb(${Math.round(222 * t)},${Math.round(136 * t)},${Math.round(88 * t)})`;
}
const hotStops: any[] = [[0, "#000000"], [0.18, "#5A0000"], [0.33, "#C80000"], [0.45, "#FF3000"], [0.58, "#FF9000"], [0.7, "#FFD800"], [0.85, "#FFFF50"], [1, "#FFFFD8"]];
const hotList = hotStops.map((s) => s[1]);
function hotColor(d: number) {
  for (let i = 1; i < hotStops.length; i++) {
    if (d <= hotStops[i][0]) {
      const a = hotStops[i - 1], b = hotStops[i];
      return echarts.color.lerp((d - a[0]) / (b[0] - a[0]), [a[1], b[1]]);
    }
  }
  return hotList[hotList.length - 1];
}

const L10 = Math.log10;

function buildOption() {
  el.length = 0;
  panelA(); panelBDecor(); panelCDecor(); panelDDecor(); panelEDecor(); panelFDecor(); panelGDecor();

  const grids: any[] = [], xs: any[] = [], ys: any[] = [], series: any[] = [], mirrors: any[] = [];
  const noZero = (a: any) => ({ ...a, axisLine: { ...(a.axisLine || {}), onZero: false } });
  const plot = (b: number[], x: any, y: any, extra: any = {}) => {
    grids.push({ left: b[0], top: b[1], width: b[2] - b[0], height: b[3] - b[1], containLabel: false, ...extra });
    const i = grids.length - 1;
    xs.push(noZero({ gridIndex: i, ...x }));
    ys.push(noZero({ gridIndex: i, ...y }));
    return i;
  };
  const nameFmt = (names: string[]) => (v: number) => names[Math.round(v) - 1] ?? "";
  const box = { show: true, borderColor: "#bdbdbd", borderWidth: 1.5, backgroundColor: "transparent" };
  const tickTxt = (fs: number, c = "#222") => ({ fontSize: fs, color: c, fontFamily: FF });

  // ---- B heatmap
  const hm = plot([477.3, 46.7, 720.7, 439.3],
    { type: "category", data: cellLines, axisLine: { show: false }, axisTick: { show: false }, splitArea: { show: false },
      axisLabel: { interval: 0, rotate: 45, margin: 6, fontSize: 14, fontWeight: "bold", color: "#111", fontFamily: FF } },
    { type: "category", inverse: true, position: "right", axisLine: { show: false }, axisTick: { show: false },
      data: inhibitors.map((n) => {
        const red = ["buparlisib", "Torin2", "omipalisib"].includes(n);
        return { value: n, textStyle: { color: red ? "#EE1010" : n === "trametinib" ? "#2A50F0" : "#222", fontWeight: red ? "bold" : "normal" } };
      }),
      axisLabel: { interval: 0, margin: 7.6, fontSize: 10.6, fontFamily: FF } });
  const hmData: any[] = [];
  grmax.forEach((row, r) => row.forEach((v, c) => hmData.push([c, r, v])));
  series.push({ type: "heatmap", xAxisIndex: hm, yAxisIndex: hm, data: hmData, itemStyle: { borderWidth: 0 }, progressive: 0, emphasis: { disabled: true } });
  const heatSeriesIndex = series.length - 1;

  // ---- B colourbar
  const cb = plot([418, 60, 431, 429.3],
    { type: "value", min: 0, max: 1, show: false },
    { type: "value", min: -0.709, max: 1.015, axisLine: { show: false }, splitLine: { show: false },
      axisLabel: { customValues: grTicks, ...tickTxt(12), margin: 6, formatter: (v: number) => String(Math.round(v * 10) / 10) },
      axisTick: { customValues: grTicks, inside: true, length: 3, lineStyle: { color: "#444" } } },
    { show: true, borderColor: "#666", borderWidth: 1, z: 3 });
  const cbLevels: number[][] = [];
  for (let v = -0.72; v < 1.02; v += 0.035) cbLevels.push([v, v + 0.036]);
  series.push({
    type: "custom", xAxisIndex: cb, yAxisIndex: cb, data: cbLevels, clip: true, silent: true,
    renderItem: (_: any, api: any) => {
      const a = api.coord([0, api.value(0)]), b = api.coord([1, api.value(1)]);
      return { type: "rect", shape: { x: a[0], y: b[1], width: b[0] - a[0], height: a[1] - b[1] + 0.5 }, style: { fill: heatColor((api.value(0) + api.value(1)) / 2) } };
    },
  });

  // ---- C panels
  const boxSeries = (gi: number, rows: number[][]) => ({
    type: "custom", xAxisIndex: gi, yAxisIndex: gi, data: rows, z: 5, silent: true,
    renderItem: (_: any, api: any) => {
      const x = api.value(0);
      const V = (i: number) => api.value(i);
      const P = (dx: number, v: number) => api.coord([x + dx, v]);
      const w = 0.33, n = 0.12;
      const pts = [P(-w, V(6)), P(w, V(6)), P(w, V(5)), P(n, V(4)), P(w, V(3)), P(w, V(2)), P(-w, V(2)), P(-w, V(3)), P(-n, V(4)), P(-w, V(5))];
      const ln = (a: number[], b: number[], c: string, lw: number) => ({ type: "line", shape: { x1: a[0], y1: a[1], x2: b[0], y2: b[1] }, style: { stroke: c, lineWidth: lw } });
      return {
        type: "group",
        children: [
          ln(P(0, V(1)), P(0, V(2)), "#666", 1),
          ln(P(0, V(6)), P(0, V(7)), "#666", 1),
          ln(P(-0.12, V(1)), P(0.12, V(1)), "#666", 1),
          ln(P(-0.12, V(7)), P(0.12, V(7)), "#666", 1),
          { type: "polygon", shape: { points: pts }, style: { fill: "rgba(250,70,70,0.55)", stroke: "rgba(240,90,90,0.8)", lineWidth: 0.7 } },
          ln(P(-n, V(4)), P(n, V(4)), "#B01818", 1.4),
        ],
      };
    },
  });
  const ptsSeries = (gi: number, all: number[][]) => ({
    type: "scatter", xAxisIndex: gi, yAxisIndex: gi, symbolSize: 3.6, itemStyle: { color: "#000" }, silent: true, z: 4,
    data: all.flatMap((vals, i) => vals.map((v, j) => [i + 1 + jitter[(j + i * 3) % jitter.length], v])),
  });
  const cxAxis = (min: number, max: number) => ({
    type: "value", min, max, splitLine: { show: false }, axisLine: { show: false },
    axisTick: { customValues: [1, 2, 3, 4, 5, 6], inside: true, length: 3, lineStyle: { color: "#888" } },
    axisLabel: { customValues: [1, 2, 3, 4, 5, 6], formatter: nameFmt(panelCDrugs), rotate: 45, margin: 5, ...tickTxt(12.5, "#333") },
  });
  const cTicks = [-0.5, 0, 0.5, 1];
  const c1 = plot([57, 301, 180, 433], cxAxis(0.45, 6.58),
    { type: "value", min: -0.97, max: 1.13, splitLine: { show: false }, axisLine: { show: false },
      axisLabel: { customValues: cTicks, ...tickTxt(13), margin: 8, formatter: (v: number) => String(v) },
      axisTick: { customValues: cTicks, inside: true, length: 3, lineStyle: { color: "#888" } } }, box);
  series.push({
    type: "line", xAxisIndex: c1, yAxisIndex: c1, data: [[0.45, 0], [6.58, 0]], showSymbol: false, silent: true, lineStyle: { color: "#777", width: 1 },
  });
  series.push(ptsSeries(c1, grmaxPoints), boxSeries(c1, grmaxBoxes));

  const powFmt = (v: number) => `{b|10}{s|${v}}`;
  const powRich = (fs: number) => ({
    b: { fontSize: fs, color: "#222", fontFamily: FF, padding: [4, 0, 0, 0] },
    s: { fontSize: fs * 0.7, color: "#222", fontFamily: FF, verticalAlign: "top", padding: [0, 0, 4, 0] },
  });
  const c2 = plot([235, 301, 356, 434], cxAxis(0.32, 6.53),
    { type: "value", min: -4, max: 2, interval: 2, splitLine: { show: false }, axisLine: { show: false },
      axisLabel: { formatter: powFmt, rich: powRich(13), margin: 3 },
      axisTick: { inside: true, length: 3, lineStyle: { color: "#888" } } }, box);
  series.push(ptsSeries(c2, gr50Points), boxSeries(c2, gr50Boxes));
  series.push({
    type: "custom", xAxisIndex: c2, yAxisIndex: c2, data: gr50Hollow, z: 5, silent: true,
    renderItem: (_: any, api: any) => {
      const x = api.value(0), P = (dx: number, v: number) => api.coord([x + dx, v]);
      const ln = (a: number[], b: number[], c: string, lw: number) => ({ type: "line", shape: { x1: a[0], y1: a[1], x2: b[0], y2: b[1] }, style: { stroke: c, lineWidth: lw } });
      return {
        type: "group",
        children: [
          ln(P(0, api.value(3)), P(0, api.value(4)), "#777", 1),
          ln(P(-0.12, api.value(4)), P(0.12, api.value(4)), "#777", 1),
          ln(P(0, api.value(2)), P(0, api.value(5)), "#777", 1),
          { type: "polygon", shape: { points: [P(-0.36, api.value(2)), P(0.36, api.value(2)), P(0.2, api.value(1)), P(-0.2, api.value(1))] }, style: { fill: "rgba(255,255,255,0.6)", stroke: "#F88", lineWidth: 1 } },
          ln(P(-0.36, api.value(3)), P(0.36, api.value(3)), "#F88", 1.2),
        ],
      };
    },
  });

  // ---- D
  const dYT = dYTicks.map(L10);
  const d = plot([70.7, 534.3, 284, 711],
    { type: "value", min: -15, max: 133.4, splitLine: { show: false }, axisLine: { show: false },
      axisLabel: { customValues: dXTicks, ...tickTxt(12.5), margin: 7, formatter: (v: number) => String(v) },
      axisTick: { customValues: dXTicks, inside: true, length: 2, lineStyle: { color: "#999" } } },
    { type: "value", min: L10(54.2), max: L10(5000), splitLine: { show: false }, axisLine: { show: false },
      axisLabel: { customValues: dYT, ...tickTxt(12.5), margin: 5, formatter: (v: number) => String(Math.round(Math.pow(10, v))) },
      axisTick: { customValues: dYT, inside: true, length: 2, lineStyle: { color: "#999" } } }, { ...box, borderColor: "#ccc", borderWidth: 1 });
  const dSeries = [dDMSO, dAlpelisib, dAZD8055, dApitolisib, dTorin2, dOmipalisib];
  const bandFill = ["rgba(120,120,120,0.45)", "rgba(240,150,40,0.35)", "rgba(20,140,50,0.35)", "rgba(40,200,210,0.4)", "rgba(160,40,50,0.3)", "rgba(40,80,220,0.35)"];
  const bands: any[] = [0.03, 0.025, 0.024, 0.03, dTorinBand, dOmiBand];
  dSeries.forEach((vals, k) => {
    const rows = tD.map((t, i) => {
      const h = Array.isArray(bands[k]) ? bands[k][i] : bands[k];
      return [t, L10(vals[i]) - h, L10(vals[i]) + h];
    });
    series.push({
      type: "custom", xAxisIndex: d, yAxisIndex: d, data: rows, z: 2, silent: true, clip: true,
      renderItem: (p: any, api: any) => {
        if (p.dataIndex !== 0) return null;
        const up = rows.map((r) => api.coord([r[0], r[2]]));
        const lo = rows.map((r) => api.coord([r[0], r[1]])).reverse();
        return { type: "polygon", shape: { points: up.concat(lo) }, style: { fill: bandFill[k] } };
      },
    });
  });
  dSeries.forEach((vals, k) => series.push({
    type: "line", xAxisIndex: d, yAxisIndex: d, z: 3 + (k === 5 ? 1 : 0), showSymbol: false, silent: true, clip: true,
    lineStyle: { color: lineColors[k], width: 2.8 }, data: tD.map((t, i) => [t, L10(vals[i])]),
  }));

  // ---- E
  const e = plot([455.7, 577.7, 720.7, 707.3],
    { type: "value", min: 0.4, max: 6.6, splitLine: { show: false }, axisLine: { show: false },
      axisTick: { customValues: [1, 2, 3, 4, 5, 6], inside: true, length: 3, lineStyle: { color: "#666" } },
      axisLabel: { customValues: [1, 2, 3, 4, 5, 6], formatter: nameFmt(panelEDrugs), rotate: 45, margin: 6, ...tickTxt(14, "#333") } },
    { type: "value", min: 2, max: 4.262, splitLine: { show: false }, axisLine: { show: false },
      axisLabel: { customValues: [2, 3, 4], formatter: powFmt, rich: powRich(14), margin: 6 },
      axisTick: { customValues: [2, 3, 4], inside: true, length: 4, lineStyle: { color: "#666" } } },
    { ...box, borderColor: "#555", borderWidth: 1.2 });
  series.push({
    type: "custom", xAxisIndex: e, yAxisIndex: e, data: [[eThreshold]], z: 1, silent: true,
    renderItem: (_: any, api: any) => {
      const a = api.coord([0.4, 2]), b = api.coord([6.6, api.value(0)]);
      return { type: "rect", shape: { x: a[0], y: b[1], width: b[0] - a[0], height: a[1] - b[1] }, style: { fill: "#D8D8D8" } };
    },
  });
  const stripRows: number[][] = [];
  eDensity.forEach((row, drug) => row.forEach((dv, b) => { if (dv > 0) stripRows.push([drug + 1, eBins[b], dv]); }));
  series.push({
    type: "custom", xAxisIndex: e, yAxisIndex: e, data: stripRows, z: 3, silent: true,
    renderItem: (p: any, api: any) => {
      const cx = api.value(0), y0 = api.value(1), dv = api.value(2);
      const col = hotColor(dv);
      const kids: any[] = [];
      const yc = api.coord([cx, y0 + 0.025])[1];
      const dot = (off: number, yy: number) => ({ type: "circle", shape: { cx: api.coord([cx + off, y0])[0], cy: yy, r: 1.55 }, style: { fill: col } });
      if (dv < 0.045) {
        // sparse cells: a row of separate dots with gaps between them
        stripPattern.forEach((off, j) => {
          if ((j + p.dataIndex) % 3 !== 0 && !(dv < 0.02 && (j + p.dataIndex) % 3 === 1)) kids.push(dot(off, yc + (j % 2 ? 1 : -1)));
        });
      } else {
        const a = api.coord([cx - 0.18, y0]), b = api.coord([cx + 0.18, y0 + 0.05]);
        kids.push({ type: "rect", shape: { x: a[0], y: b[1], width: b[0] - a[0], height: a[1] - b[1] + 0.4 }, style: { fill: col } });
        kids.push(dot(-0.185 - stripEdge[p.dataIndex % 5], yc));
        kids.push(dot(0.185 + stripEdge[(p.dataIndex + 2) % 5], yc));
      }
      return { type: "group", children: kids };
    },
  });
  series.push({ type: "scatter", xAxisIndex: e, yAxisIndex: e, data: eDotsBlack, symbolSize: 3, itemStyle: { color: "#000" }, z: 4, silent: true });
  series.push({ type: "scatter", xAxisIndex: e, yAxisIndex: e, data: eDotsOrange, symbolSize: 3, itemStyle: { color: "#F05010" }, z: 4, silent: true });

  // ---- F
  const f = plot([62.3, 797.3, 259, 959.3],
    { type: "value", min: -7.8, max: 82.5, splitLine: { show: false }, axisLine: { show: false },
      axisLabel: { customValues: fXTicks, ...tickTxt(12.5), margin: 7, formatter: (v: number) => String(v) },
      axisTick: { customValues: fXTicks, inside: true, length: 2, lineStyle: { color: "#999" } } },
    { type: "value", min: -16, max: 2586, splitLine: { show: false }, axisLine: { show: false },
      axisLabel: { customValues: fYTicks, ...tickTxt(12.5), margin: 5, formatter: (v: number) => String(v) },
      axisTick: { customValues: fYTicks, inside: true, length: 2, lineStyle: { color: "#999" } } }, { ...box, borderColor: "#ccc", borderWidth: 1 });
  const shade = (vals: number[], color: string, z: number) => series.push({
    type: "line", xAxisIndex: f, yAxisIndex: f, z, showSymbol: false, silent: true, lineStyle: { opacity: 0, width: 0 },
    areaStyle: { color, opacity: 1, origin: "start" }, data: tF.map((t, i) => [t, vals[i]]).filter((p) => p[0] >= 6 && p[0] <= 72),
  });
  shade(fTorin2, "#EFDADA", 1);
  shade(fDMSO, "#A28F8F", 2);
  const fSeries = [fDMSO, fAlpelisib, fAZD8055, fApitolisib, fTorin2, fOmipalisib];
  [2, 3, 1, 5, 4, 0].forEach((k) => series.push({
    type: "line", xAxisIndex: f, yAxisIndex: f, z: 3, symbol: "circle", symbolSize: 6, showSymbol: true, silent: true,
    itemStyle: { color: lineColors[k] }, lineStyle: { color: lineColors[k], width: 2.2 }, clip: false,
    data: tF.map((t, i) => [t, fSeries[k][i]]),
  }));

  // ---- G
  const gBoxes = [
    [393.5, 794.3, 515, 845], [534.3, 794.3, 655, 845], [675, 794.3, 795, 845],
    [393.5, 901.7, 515, 954], [533, 901.7, 655, 954], [675, 901.7, 795, 954],
  ];
  gBoxes.forEach((b, k) => {
    const g = plot(b,
      { type: "category", data: gCats[k], axisLine: { lineStyle: { color: "#999", width: 1 } }, axisTick: { show: false },
        axisLabel: { interval: 0, rotate: 45, margin: 4, ...tickTxt(10, "#222") } },
      { type: "value", min: 0, max: gMax[k], interval: gTickStep[k], splitLine: { show: false },
        axisLine: { show: true, lineStyle: { color: "#999" } }, axisTick: { show: true, inside: true, length: 3, lineStyle: { color: "#999" } },
        axisLabel: { ...tickTxt(13), margin: 7, showMaxLabel: k !== 3 } });
    series.push({ type: "bar", xAxisIndex: g, yAxisIndex: g, data: gVals[k], barWidth: 12.3, itemStyle: { color: "#3D3D3D" }, silent: true });
    series.push({
      type: "custom", xAxisIndex: g, yAxisIndex: g, data: gVals[k].map((v, i) => [i, v, gErr[k][i]]), z: 3, silent: true,
      renderItem: (p: any, api: any) => {
        const a = api.coord([p.dataIndex, api.value(1)]), c = api.coord([p.dataIndex, api.value(1) + api.value(2)]);
        return {
          type: "group",
          children: [
            { type: "line", shape: { x1: a[0], y1: a[1], x2: c[0], y2: c[1] }, style: { stroke: "#3D3D3D", lineWidth: 3 } },
            { type: "line", shape: { x1: c[0] - 3, y1: c[1], x2: c[0] + 3, y2: c[1] }, style: { stroke: "#3D3D3D", lineWidth: 1.2 } },
          ],
        };
      },
    });
  });

  // mirrored top ticks for C and E boxes
  [c1, c2, e].forEach((i) => {
    const src = xs[i];
    mirrors.push({ gridIndex: i, type: "value", position: "top", min: src.min, max: src.max, splitLine: { show: false }, axisLine: { show: false, onZero: false },
      axisLabel: { show: false }, axisTick: { ...src.axisTick } });
  });

  return {
    animation: false,
    backgroundColor: "#fff",
    textStyle: { fontFamily: FF },
    grid: grids,
    xAxis: xs.concat(mirrors),
    yAxis: ys,
    visualMap: {
      show: false, type: "continuous", seriesIndex: heatSeriesIndex, min: -0.72, max: 1, dimension: 2,
      inRange: { color: Array.from({ length: 87 }, (_, i) => heatColor(-0.72 + i * 0.02)) },
    },
    series,
    graphic: { elements: el.slice() },
  };
}

export default function App() {
  const ref = useRef<HTMLDivElement>(null);
  useEffect(() => {
    document.body.style.margin = "0";
    const chart = echarts.init(ref.current!, undefined, { renderer: "svg", width: 800, height: 1000 });
    chart.setOption(buildOption() as any);
    return () => chart.dispose();
  }, []);
  return <div ref={ref} style={{ width: 800, height: 1000 }} />;
}
